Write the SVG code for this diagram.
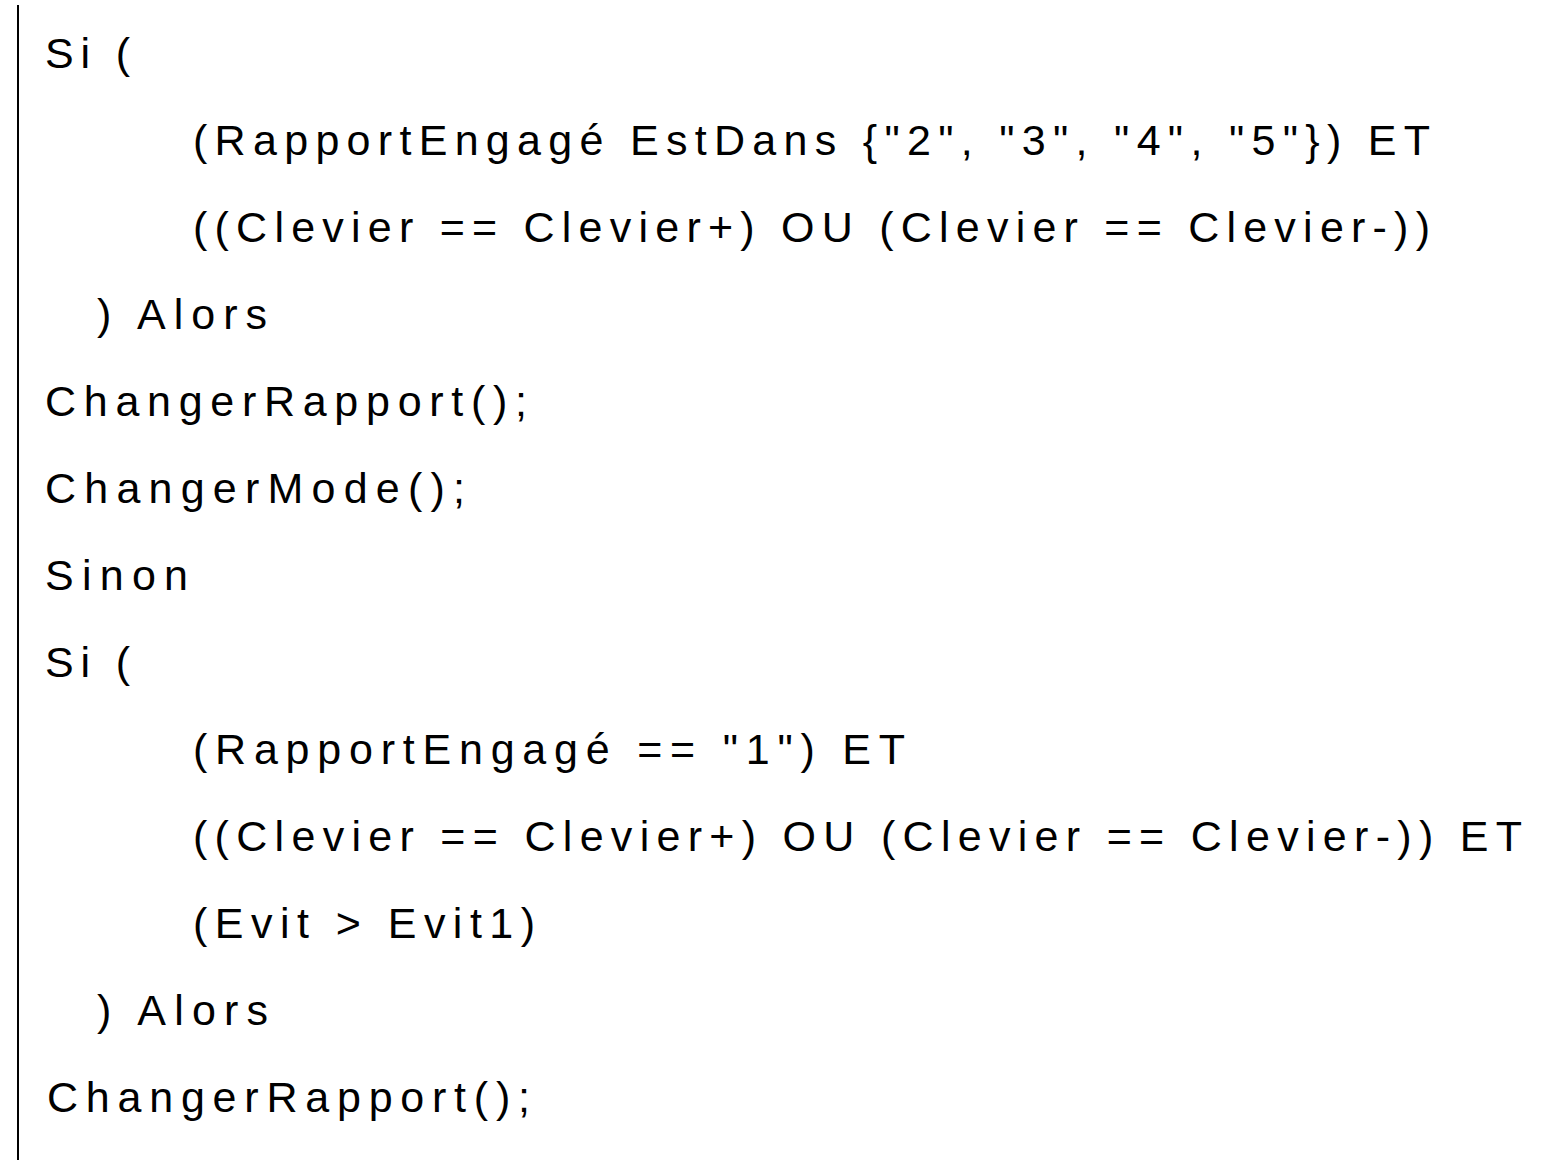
<svg xmlns="http://www.w3.org/2000/svg" width="1568" height="1169" viewBox="0 0 1568 1169">
<style>text{font-family:"Liberation Sans",Arial,sans-serif;font-size:43px;fill:#000}</style>
<rect width="1568" height="1169" fill="#fff"/>
<line x1="18" y1="5" x2="18" y2="1160" stroke="#000" stroke-width="2"/>
<text x="45" y="68" textLength="85" lengthAdjust="spacing">Si (</text>
<text x="193" y="155" textLength="1237" lengthAdjust="spacing">(RapportEngagé EstDans {"2", "3", "4", "5"}) ET</text>
<text x="193" y="242" textLength="1237" lengthAdjust="spacing">((Clevier == Clevier+) OU (Clevier == Clevier-))</text>
<text x="97" y="329" textLength="170" lengthAdjust="spacing">) Alors</text>
<text x="45" y="416" textLength="482" lengthAdjust="spacing">ChangerRapport();</text>
<text x="45" y="503" textLength="420" lengthAdjust="spacing">ChangerMode();</text>
<text x="45" y="590" textLength="143" lengthAdjust="spacing">Sinon</text>
<text x="45" y="677" textLength="85" lengthAdjust="spacing">Si (</text>
<text x="193" y="764" textLength="712" lengthAdjust="spacing">(RapportEngagé == "1") ET</text>
<text x="193" y="851" textLength="1329" lengthAdjust="spacing">((Clevier == Clevier+) OU (Clevier == Clevier-)) ET</text>
<text x="193" y="938" textLength="342" lengthAdjust="spacing">(Evit &gt; Evit1)</text>
<text x="97" y="1025" textLength="171" lengthAdjust="spacing">) Alors</text>
<text x="47" y="1112" textLength="483" lengthAdjust="spacing">ChangerRapport();</text>
</svg>
